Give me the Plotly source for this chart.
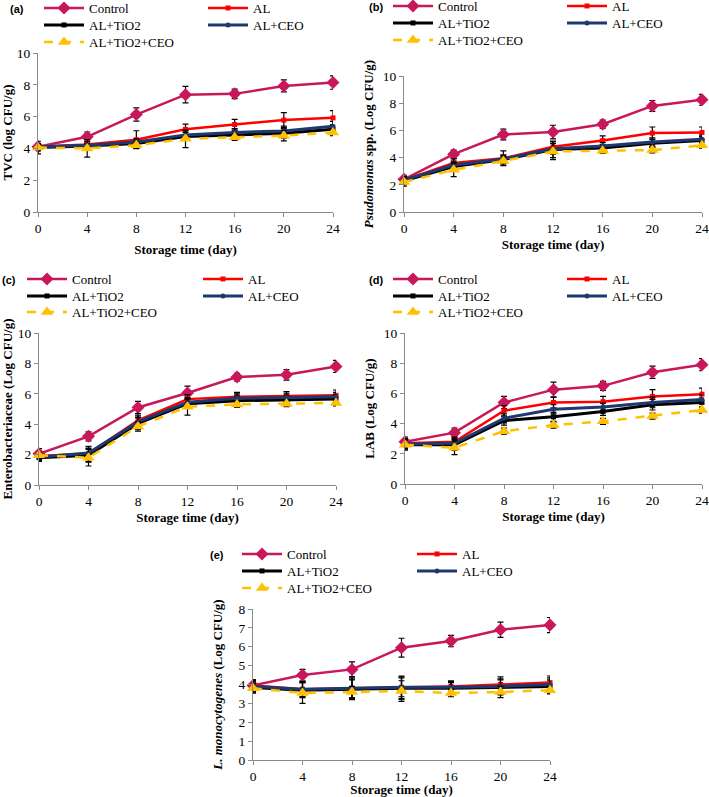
import plotly.graph_objects as go

W, H = 709, 797
T = 0  # no margins; margin auto-expansion is switched off

days = [0, 4, 8, 12, 16, 20, 24]
series = ["Control", "AL", "AL+TiO2", "AL+CEO", "AL+TiO2+CEO"]

# (a) TVC
tvc_mean = {
    "Control":     [4.10, 4.73, 6.13, 7.38, 7.43, 7.93, 8.14],
    "AL":          [4.10, 4.25, 4.55, 5.20, 5.50, 5.78, 5.92],
    "AL+TiO2":     [4.05, 4.15, 4.30, 4.75, 4.85, 4.95, 5.20],
    "AL+CEO":      [4.10, 4.20, 4.40, 4.85, 5.00, 5.10, 5.40],
    "AL+TiO2+CEO": [4.05, 4.00, 4.20, 4.60, 4.70, 4.80, 5.00],
}
tvc_err = {
    "Control":     [0.15, 0.30, 0.42, 0.52, 0.30, 0.38, 0.42],
    "AL":          [0.10, 0.15, 0.56, 0.33, 0.33, 0.47, 0.45],
    "AL+TiO2":     [0.40, 0.10, 0.20, 0.25, 0.25, 0.30, 0.30],
    "AL+CEO":      [0.20, 0.10, 0.20, 0.25, 0.25, 0.30, 0.30],
    "AL+TiO2+CEO": [0.20, 0.55, 0.20, 0.55, 0.20, 0.33, 0.20],
}

# (b) Pseudomonas
pse_mean = {
    "Control":     [2.40, 4.25, 5.70, 5.88, 6.45, 7.80, 8.25],
    "AL":          [2.35, 3.60, 3.95, 4.80, 5.25, 5.80, 5.85],
    "AL+TiO2":     [2.30, 3.35, 3.85, 4.60, 4.70, 5.05, 5.25],
    "AL+CEO":      [2.35, 3.45, 3.90, 4.65, 4.85, 5.15, 5.35],
    "AL+TiO2+CEO": [2.20, 3.10, 3.75, 4.45, 4.50, 4.55, 4.90],
}
pse_err = {
    "Control":     [0.30, 0.30, 0.40, 0.50, 0.30, 0.40, 0.40],
    "AL":          [0.20, 0.30, 0.55, 0.40, 0.35, 0.45, 0.40],
    "AL+TiO2":     [0.25, 0.30, 0.30, 0.60, 0.25, 0.30, 0.30],
    "AL+CEO":      [0.25, 0.30, 0.30, 0.40, 0.25, 0.30, 0.30],
    "AL+TiO2+CEO": [0.30, 0.50, 0.30, 0.60, 0.20, 0.20, 0.20],
}

# (c) Enterobacteriaceae
ent_mean = {
    "Control":     [2.05, 3.20, 5.10, 6.05, 7.10, 7.25, 7.80],
    "AL":          [1.90, 2.05, 4.25, 5.65, 5.80, 5.85, 5.90],
    "AL+TiO2":     [1.80, 1.95, 4.05, 5.35, 5.55, 5.60, 5.65],
    "AL+CEO":      [1.85, 2.10, 4.15, 5.45, 5.70, 5.75, 5.80],
    "AL+TiO2+CEO": [1.95, 1.80, 3.85, 5.15, 5.30, 5.35, 5.40],
}
ent_err = {
    "Control":     [0.35, 0.30, 0.40, 0.45, 0.25, 0.35, 0.40],
    "AL":          [0.20, 0.50, 0.45, 0.30, 0.30, 0.30, 0.35],
    "AL+TiO2":     [0.25, 0.45, 0.40, 0.30, 0.30, 0.30, 0.30],
    "AL+CEO":      [0.25, 0.40, 0.40, 0.30, 0.30, 0.30, 0.30],
    "AL+TiO2+CEO": [0.20, 0.55, 0.30, 0.55, 0.20, 0.20, 0.20],
}

# (d) LAB
lab_mean = {
    "Control":     [2.80, 3.40, 5.40, 6.25, 6.50, 7.40, 7.90],
    "AL":          [2.70, 2.80, 4.85, 5.40, 5.45, 5.80, 5.95],
    "AL+TiO2":     [2.60, 2.60, 4.20, 4.45, 4.80, 5.25, 5.40],
    "AL+CEO":      [2.65, 2.70, 4.35, 4.95, 5.10, 5.40, 5.60],
    "AL+TiO2+CEO": [2.60, 2.40, 3.50, 3.90, 4.15, 4.50, 4.90],
}
lab_err = {
    "Control":     [0.30, 0.30, 0.40, 0.50, 0.30, 0.40, 0.40],
    "AL":          [0.30, 0.30, 0.35, 0.35, 0.35, 0.45, 0.40],
    "AL+TiO2":     [0.35, 0.35, 0.30, 0.30, 0.25, 0.35, 0.30],
    "AL+CEO":      [0.30, 0.30, 0.30, 0.30, 0.25, 0.35, 0.30],
    "AL+TiO2+CEO": [0.30, 0.45, 0.20, 0.20, 0.20, 0.20, 0.20],
}

# (e) L. monocytogenes
lm_mean = {
    "Control":     [3.95, 4.50, 4.80, 5.95, 6.30, 6.90, 7.15],
    "AL":          [3.95, 3.75, 3.80, 3.85, 3.90, 4.00, 4.10],
    "AL+TiO2":     [3.85, 3.70, 3.75, 3.80, 3.80, 3.85, 3.90],
    "AL+CEO":      [3.90, 3.75, 3.80, 3.85, 3.85, 3.90, 4.00],
    "AL+TiO2+CEO": [3.80, 3.55, 3.60, 3.65, 3.55, 3.60, 3.70],
}
lm_err = {
    "Control":     [0.30, 0.30, 0.40, 0.50, 0.30, 0.40, 0.40],
    "AL":          [0.30, 0.40, 0.60, 0.60, 0.30, 0.40, 0.35],
    "AL+TiO2":     [0.30, 0.40, 0.50, 0.60, 0.30, 0.40, 0.35],
    "AL+CEO":      [0.30, 0.40, 0.50, 0.50, 0.30, 0.40, 0.35],
    "AL+TiO2+CEO": [0.25, 0.55, 0.30, 0.55, 0.20, 0.30, 0.20],
}

panel_labels = ["(a)", "(b)", "(c)", "(d)", "(e)"]
y_titles = [
    "<b>TVC (log CFU/g)</b>",
    "<b><i>Psudomonas</i> spp. (Log CFU/g)</b>",
    "<b>Enterobacteriaceae (Log CFU/g)</b>",
    "<b>LAB (Log CFU/g)</b>",
    "<b><i>L. monocytogenes</i> (Log CFU/g)</b>",
]
x_title = "<b>Storage time (day)</b>"
y_max = [10, 10, 10, 10, 8]
y_dtick = [2, 2, 2, 2, 1]

means = [tvc_mean, pse_mean, ent_mean, lab_mean, lm_mean]
errs = [tvc_err, pse_err, ent_err, lab_err, lm_err]

# plot-area pixel boxes: x0, x1, ytop, ybottom
boxes = [
    (38, 333, 53, 212),
    (404, 702, 76, 212),
    (39, 336, 333, 485),
    (405, 702, 333, 484),
    (253, 550, 609, 760),
]
# legend layout per panel: left/right column line-start x, row centre y's
leg_cols = [(44, 208), (393, 567), (27, 203), (393, 567), (242, 417)]
leg_rows = [(9, 26, 43), (7, 24, 41), (280, 297, 313), (280, 297, 313), (555, 572, 589)]
# (column, row) of each series inside its legend block
leg_cell = {
    "Control": (0, 0), "AL": (1, 0),
    "AL+TiO2": (0, 1), "AL+CEO": (1, 1),
    "AL+TiO2+CEO": (0, 2),
}
label_pos = [(17, 9), (376, 7), (9, 280), (376, 280), (217, 555)]
ytitle_standoff = [12, 6, 16, 6, 12]
xtitle_standoff = [9, 4, 4, 4, 5]

colors = {
    "Control": "#C8175A",
    "AL": "#FF0000",
    "AL+TiO2": "#000000",
    "AL+CEO": "#1F3870",
    "AL+TiO2+CEO": "#FFC000",
}
styles = {
    "Control": dict(symbol="diamond", size=10, width=2.5, dash="solid"),
    "AL": dict(symbol="square", size=5, width=2.5, dash="solid"),
    "AL+TiO2": dict(symbol="square", size=5, width=3, dash="solid"),
    "AL+CEO": dict(symbol="circle", size=5, width=3, dash="solid"),
    "AL+TiO2+CEO": dict(symbol="triangle-up", size=11, width=2.5, dash="dash"),
}

SERIF = "Liberation Serif"
AXC = "#8a8a8a"
LEG_DX = 5    # legend box left -> line start
LEG_DY = 16   # legend box top -> row centre


def py(pix):
    """page pixel row -> paper y fraction"""
    return (H - pix) / (H - T)


fig = go.Figure()
layout = dict(
    width=W, height=H, margin=dict(l=0, r=0, t=T, b=0, autoexpand=False),
    paper_bgcolor="white", plot_bgcolor="white", showlegend=True,
    font=dict(family=SERIF, color="black"),
)
annotations = []

for p in range(5):
    sfx = "" if p == 0 else str(p + 1)
    x0, x1, yt, yb = boxes[p]
    layout["xaxis" + sfx] = dict(
        domain=[x0 / W, x1 / W], anchor="y" + sfx, range=[0, 24],
        tickvals=days, ticks="outside", ticklen=4, tickcolor=AXC,
        showline=True, linecolor=AXC, linewidth=1, showgrid=False, zeroline=False,
        tickfont=dict(family=SERIF, size=13.5, color="black"),
        title=dict(text=x_title, font=dict(family=SERIF, size=13, color="black"),
                   standoff=xtitle_standoff[p]),
        automargin=False,
    )
    layout["yaxis" + sfx] = dict(
        domain=[py(yb), py(yt)], anchor="x" + sfx, range=[0, y_max[p]],
        dtick=y_dtick[p], ticks="outside", ticklen=4, tickcolor=AXC,
        showline=True, linecolor=AXC, linewidth=1, showgrid=False, zeroline=False,
        tickfont=dict(family=SERIF, size=13.5, color="black"),
        title=dict(text=y_titles[p], font=dict(family=SERIF, size=13, color="black"),
                   standoff=ytitle_standoff[p]),
        automargin=False,
    )
    for i, s in enumerate(series):
        idx = p * 5 + i + 1
        ln = "legend" if idx == 1 else "legend" + str(idx)
        col, row = leg_cell[s]
        lx = leg_cols[p][col]
        ly = leg_rows[p][row]
        layout[ln] = dict(
            x=(lx - LEG_DX) / W, y=py(ly - LEG_DY), xanchor="left", yanchor="top",
            orientation="v", bgcolor="rgba(0,0,0,0)", borderwidth=0,
            font=dict(family=SERIF, size=13, color="black"),
            itemwidth=40, tracegroupgap=0,
        )
        st = styles[s]
        fig.add_trace(go.Scatter(
            x=days, y=means[p][s], name=s, mode="lines+markers",
            xaxis="x" + sfx, yaxis="y" + sfx, legend=ln,
            line=dict(color=colors[s], width=st["width"], dash=st["dash"]),
            marker=dict(symbol=st["symbol"], size=st["size"], color=colors[s]),
            error_y=dict(type="data", array=errs[p][s], visible=True,
                         color="black", thickness=1.2, width=3),
            cliponaxis=False,
        ))
    lxp, lyp = label_pos[p]
    annotations.append(dict(
        text="<b>" + panel_labels[p] + "</b>", x=lxp / W, y=py(lyp),
        xref="paper", yref="paper", xanchor="center", yanchor="middle",
        showarrow=False, font=dict(family="Liberation Sans", size=11, color="black"),
    ))

layout["annotations"] = annotations
fig.update_layout(**layout)
fig.write_html(
    "out.html",
    config={"displayModeBar": False},
    post_script="document.body.style.margin='0px';document.body.style.overflow='hidden';",
)
